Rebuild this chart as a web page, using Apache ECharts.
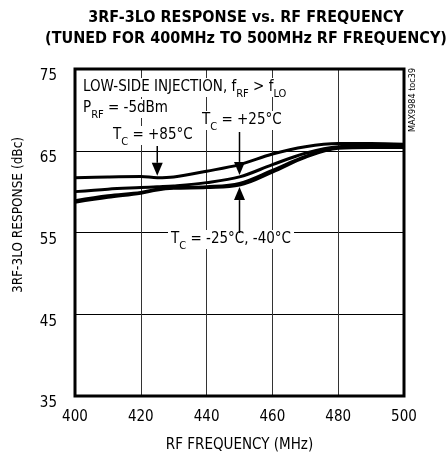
<!DOCTYPE html>
<html>
<head>
<meta charset="utf-8">
<script src="https://cdn.jsdelivr.net/npm/echarts@6/dist/echarts.min.js"></script>
<style>
  html, body { margin: 0; padding: 0; background: #fff; }
  #chart { width: 447px; height: 458px; }
</style>
</head>
<body>
<div id="chart"></div>
<script>
// RF frequency sweep (MHz)
const freqMHz = [400, 410, 420, 425, 430, 440, 450, 460, 470, 480, 490, 500];
// 3RF-3LO response (dBc) per case temperature
const resp85 = [61.7, 61.8, 61.85, 61.7, 61.8, 62.5, 63.3, 64.6, 65.5, 65.9, 65.9, 65.8];
const resp25 = [60.0, 60.3, 60.5, 60.6, 60.7, 61.1, 61.8, 63.3, 64.7, 65.5, 65.6, 65.6];
const respM25 = [58.9, 59.5, 59.9, 60.3, 60.5, 60.6, 61.0, 62.6, 64.3, 65.4, 65.5, 65.5];
const respM40 = [58.7, 59.3, 59.8, 60.2, 60.4, 60.5, 60.8, 62.4, 64.2, 65.3, 65.4, 65.4];
const xTicks = [400, 420, 440, 460, 480, 500];
const yTicks = [35, 45, 55, 65, 75];

const NARROW = "'Liberation Sans Narrow', 'DejaVu Sans Condensed', sans-serif";
const chart = echarts.init(document.getElementById('chart'));

function pairs(ys) { return freqMHz.map((f, i) => [f, ys[i]]); }
function curve(name, ys) {
  return {
    name, type: 'line', data: pairs(ys), smooth: 0.35, symbol: 'none',
    lineStyle: { color: '#000', width: 3 }, z: 5, silent: true
  };
}

chart.setOption({
  animation: false,
  backgroundColor: '#fff',
  title: {
    text: '3RF-3LO RESPONSE vs. RF FREQUENCY\n(TUNED FOR 400MHz TO 500MHz RF FREQUENCY)',
    left: 241, top: 2, textAlign: 'center',
    textStyle: { fontFamily: "'DejaVu Sans Condensed', sans-serif", fontWeight: 'bold', fontSize: 16, lineHeight: 21, color: '#000' }
  },
  grid: { left: 75, right: 43, top: 69, bottom: 61, show: true, borderColor: '#000', borderWidth: 3, z: 6 },
  xAxis: {
    type: 'value', min: 400, max: 500, interval: 20,
    axisLine: { show: false }, axisTick: { show: false },
    splitLine: { show: true, lineStyle: { color: '#333', width: 1 } },
    axisLabel: { margin: 14, fontFamily: NARROW, fontSize: 15, color: '#000',
      formatter: v => xTicks.includes(v) ? String(v) : '' },
    name: 'RF FREQUENCY (MHz)', nameLocation: 'middle', nameGap: 42,
    nameTextStyle: { fontFamily: NARROW, fontSize: 15, color: '#000' }
  },
  yAxis: {
    type: 'value', min: 35, max: 75, interval: 10,
    axisLine: { show: false }, axisTick: { show: false },
    splitLine: { show: true, lineStyle: { color: '#000', width: 1 } },
    axisLabel: { margin: 18, fontFamily: NARROW, fontSize: 15, color: '#000', verticalAlign: 'top',
      formatter: v => yTicks.includes(v) ? String(v) : '' }
  },
  series: [
    curve('+85°C', resp85),
    curve('+25°C', resp25),
    curve('-25°C', respM25),
    curve('-40°C', respM40)
  ]
});

// Annotations: labels, arrows to the curves, side and axis captions
const px = (f, v) => chart.convertToPixel({ gridIndex: 0 }, [f, v]);
const txt = { fontFamily: NARROW, fontSize: 15, fill: '#000' };
const rich = {
  s: { fontFamily: NARROW, fontSize: 11, verticalAlign: 'bottom', padding: [0, 0, -5, 0] }
};

function label(x, y, text, opts) {
  return {
    type: 'text', x, y, z: 20,
    style: Object.assign({ text, rich, backgroundColor: '#fff', padding: [2, 3, 2, 3] }, txt, opts || {})
  };
}
function arrow(f, v, fromY, dir) {
  // dir = 1: pointing down onto curve; -1: pointing up onto curve
  const [x, y] = px(f, v);
  const tipY = y - dir * 2;
  const head = 13, half = 5.5;
  return [
    { type: 'line', z: 21, shape: { x1: x, y1: fromY, x2: x, y2: tipY - dir * head }, style: { stroke: '#000', lineWidth: 1.5 } },
    { type: 'polygon', z: 21, shape: { points: [[x - half, tipY - dir * head], [x + half, tipY - dir * head], [x, tipY]] }, style: { fill: '#000' } }
  ];
}

const p85 = 425, p25 = 450, pM = 450;
const y25 = resp25[freqMHz.indexOf(p25)];
const yM = respM40[freqMHz.indexOf(pM)];
const y85 = resp85[freqMHz.indexOf(p85)];

chart.setOption({
  graphic: [
    label(80, 78, 'LOW-SIDE INJECTION, f{s|RF} > f{s|LO}'),
    label(80, 99, 'P{s|RF} = -5dBm'),
    label(110, 126, 'T{s|C} = +85°C'),
    label(199, 111, 'T{s|C} = +25°C'),
    label(168, 230, 'T{s|C} = -25°C, -40°C'),
    ...arrow(p85, y85, 146, 1),
    ...arrow(p25, y25, 132, 1),
    ...arrow(pM, yM, 233, -1),
    {
      type: 'text', x: 413, y: 100, rotation: Math.PI / 2, z: 20,
      style: { text: 'MAX9984 toc39', fontFamily: NARROW, fontSize: 9, fill: '#000', align: 'center', verticalAlign: 'middle' }
    },
    {
      type: 'text', x: 18, y: 215, rotation: Math.PI / 2, z: 20,
      style: { text: '3RF-3LO RESPONSE (dBc)', fontFamily: NARROW, fontSize: 13.5, fill: '#000', align: 'center', verticalAlign: 'middle' }
    }
  ]
});
</script>
</body>
</html>
